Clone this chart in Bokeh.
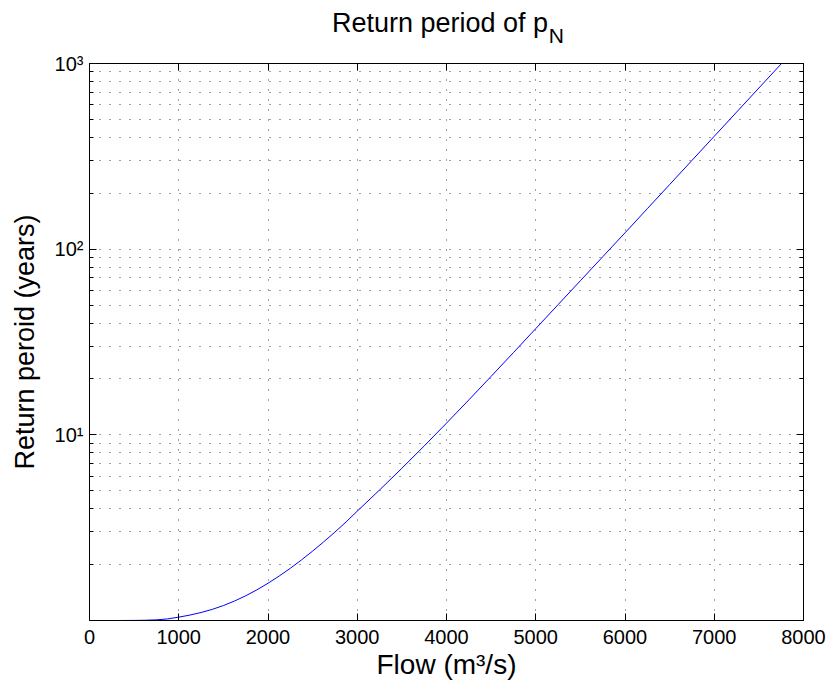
from bokeh.plotting import figure
from bokeh.models import FixedTicker, LinearAxis, LogAxis, Range1d, ColumnDataSource
from bokeh.layouts import column
from bokeh.core.properties import value
from bokeh.embed import file_html
from bokeh.resources import INLINE

# Data
flow = [0, 250, 375, 500, 625, 750, 875, 1000, 1125, 1250, 1375, 1500, 1625, 1750,
        1875, 2000, 2125, 2250, 2375, 2500, 2625, 2750, 2875, 3000, 3250, 3500,
        3750, 4000, 4250, 4500, 4750, 5000, 5250, 5500, 5750, 6000, 6250, 6500,
        6750, 7000, 7250, 7500, 7754]
return_period = [1.0, 1.0, 1.0002, 1.001, 1.003, 1.008, 1.02, 1.0423, 1.0698,
                 1.1041, 1.1479, 1.2036, 1.2731, 1.3583, 1.4622, 1.5867, 1.7355,
                 1.9105, 2.120, 2.3646, 2.6546, 2.9944, 3.396, 3.8815, 5.0466,
                 6.6069, 8.7096, 11.561, 15.417, 20.654, 27.733, 37.325, 50.234,
                 67.608, 90.991, 122.46, 165.2, 222.8, 300.6, 405.5, 547.0,
                 737.9, 1000.0]

x_ticks = [0, 1000, 2000, 3000, 4000, 5000, 6000, 7000, 8000]
y_ticks = [10, 100, 1000]
y_minor = [2, 3, 4, 5, 6, 7, 8, 9, 20, 30, 40, 50, 60, 70, 80, 90,
           200, 300, 400, 500, 600, 700, 800, 900]
y_tick_labels = {10: "10\u00b9", 100: "10\u00b2", 1000: "10\u00b3"}

title_main = "Return period of p"
title_sub = "N"
x_label = "Flow (m\u00b3/s)"
y_label = "Return peroid (years)"

FONT = "Liberation Sans"
W, H = 830, 698
TITLE_H = 52

# ---- title strip (real text, with subscript N) ----
tf = figure(width=W, height=TITLE_H, x_range=Range1d(0, W), y_range=Range1d(TITLE_H, 0),
            output_backend="svg", toolbar_location=None,
            x_axis_location=None, y_axis_location=None,
            min_border=0, min_border_left=0, min_border_right=0,
            min_border_top=0, min_border_bottom=0,
            background_fill_color="white", border_fill_color="white")
tf.outline_line_color = None
tf.grid.visible = False
tf.text(x=[533], y=[22], text=[title_main], text_align="right",
        text_baseline="alphabetic", text_font=value(FONT),
        text_font_size="27px", text_color="black")
tf.text(x=[534], y=[35], text=[title_sub], text_align="left",
        text_baseline="alphabetic", text_font=value(FONT),
        text_font_size="21px", text_color="black")

# ---- main plot ----
p = figure(width=W, height=H - TITLE_H, y_axis_type="log",
           x_range=Range1d(0, 8000), y_range=Range1d(1, 1000),
           output_backend="svg", toolbar_location=None,
           min_border_left=89, min_border_right=27,
           min_border_top=63 - TITLE_H, min_border_bottom=78,
           background_fill_color="white", border_fill_color="white")

src = ColumnDataSource(dict(x=flow, y=return_period))
p.line("x", "y", source=src, line_color="#0000FF", line_width=1)

xt = FixedTicker(ticks=x_ticks, minor_ticks=[])
yt = FixedTicker(ticks=y_ticks, minor_ticks=y_minor)

def style_axis(ax, labels=True):
    ax.axis_line_color = "black"
    ax.axis_line_width = 1
    ax.major_tick_line_color = "black"
    ax.minor_tick_line_color = "black"
    ax.major_tick_in = 7
    ax.major_tick_out = 0
    ax.minor_tick_in = 4
    ax.minor_tick_out = 0
    ax.major_label_text_font = FONT
    ax.major_label_text_font_size = "20px"
    ax.major_label_text_color = "black"
    ax.axis_label_text_font = FONT
    ax.axis_label_text_font_size = "27px"
    ax.axis_label_text_font_style = "normal"
    ax.axis_label_text_color = "black"
    if not labels:
        ax.major_label_text_font_size = "0px"
        ax.major_label_text_alpha = 0
        ax.major_label_standoff = 0

xa = p.xaxis[0]
xa.ticker = xt
xa.axis_label = x_label
xa.major_label_standoff = 9
xa.axis_label_standoff = 2
style_axis(xa)
xa.axis_label_text_font_size = "28px"

ya = p.yaxis[0]
ya.ticker = yt
ya.major_label_overrides = y_tick_labels
ya.axis_label = y_label
ya.major_label_standoff = 6
ya.axis_label_standoff = 12
style_axis(ya)

top = LinearAxis(ticker=xt)
style_axis(top, labels=False)
p.add_layout(top, "above")

right = LogAxis(ticker=yt)
style_axis(right, labels=False)
p.add_layout(right, "right")

p.xgrid[0].ticker = xt
p.ygrid[0].ticker = yt
for g in (p.xgrid[0], p.ygrid[0]):
    g.grid_line_color = "black"
    g.grid_line_alpha = 0.75
    g.grid_line_dash = "1 9"
    g.grid_line_width = 1
p.ygrid[0].minor_grid_line_color = "black"
p.ygrid[0].minor_grid_line_alpha = 0.75
p.ygrid[0].minor_grid_line_dash = "1 9"

p.outline_line_color = "black"
p.outline_line_width = 1

layout = column(tf, p, spacing=0)
open("out.html", "w").write(file_html(layout, INLINE))
